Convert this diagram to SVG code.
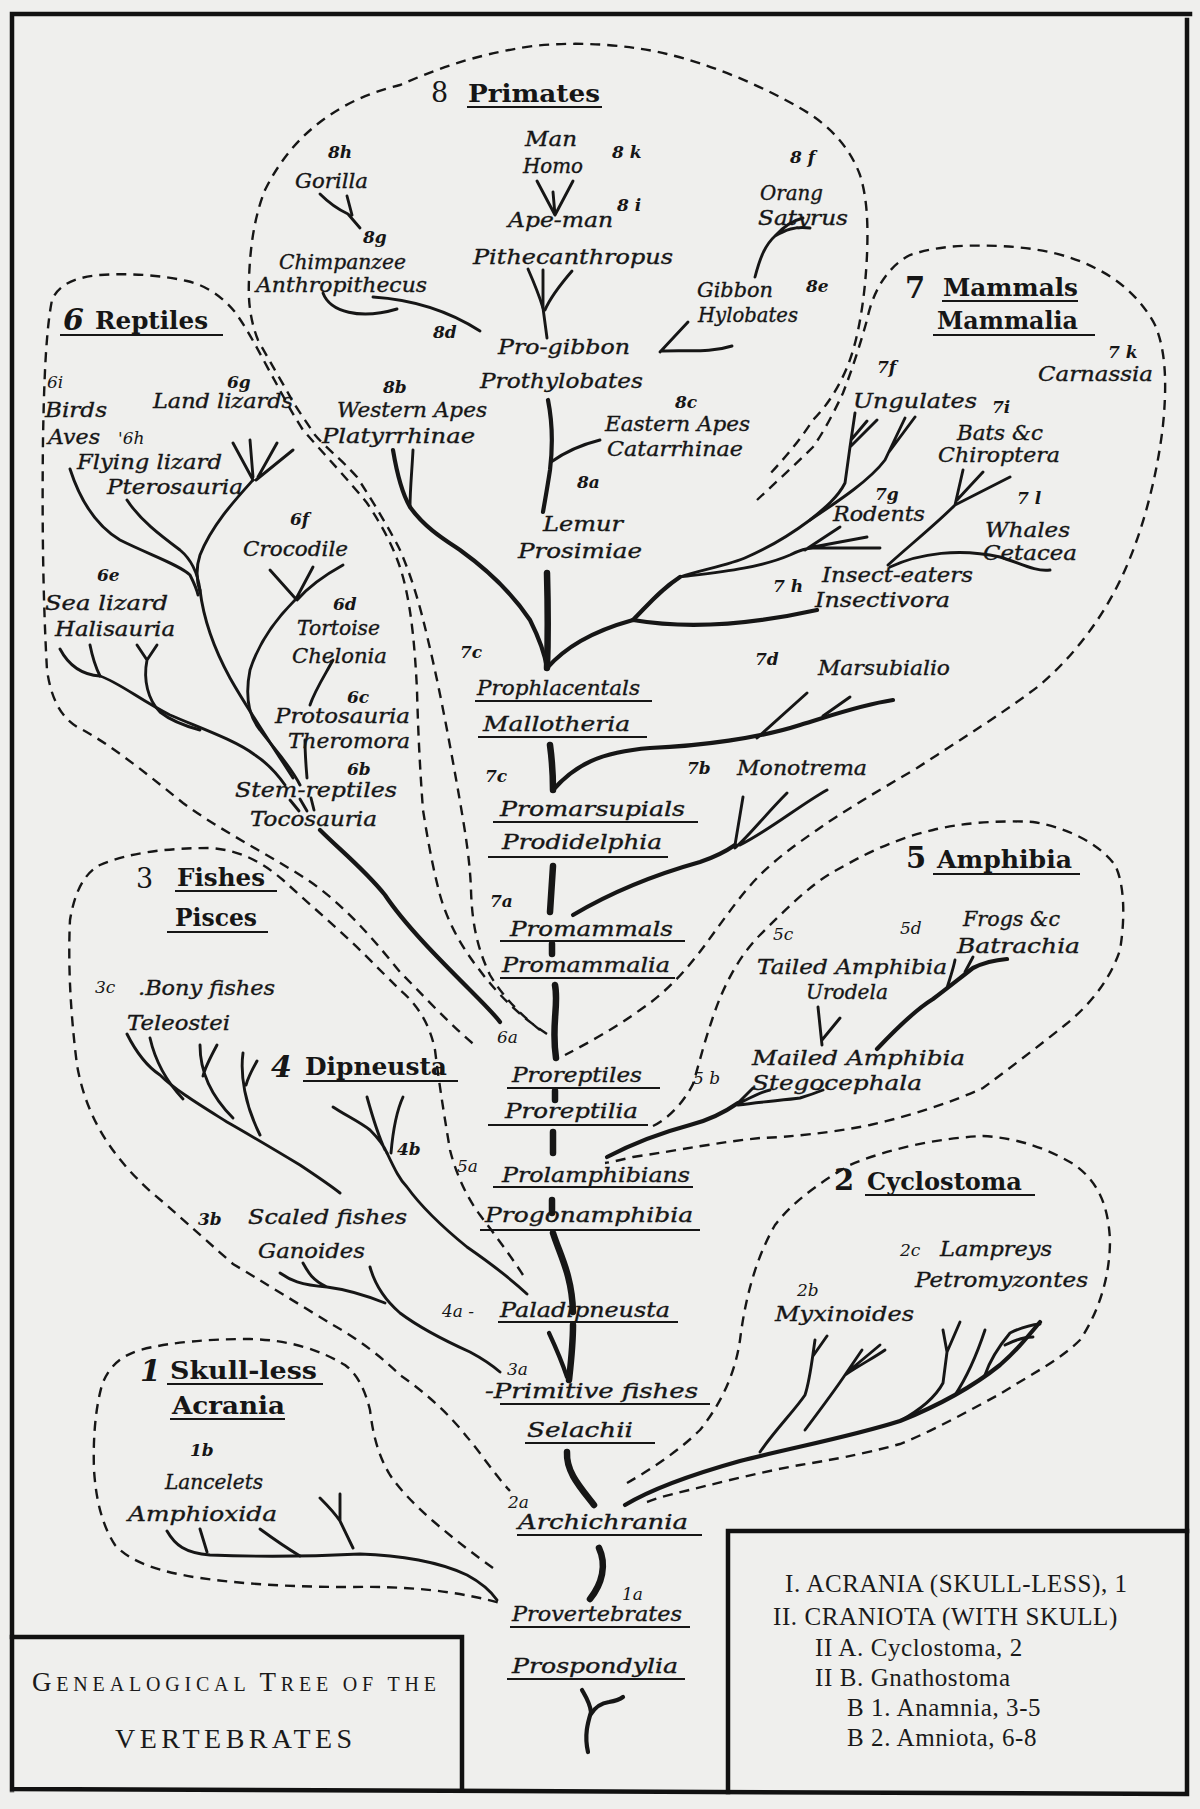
<svg xmlns="http://www.w3.org/2000/svg" width="1200" height="1809" viewBox="0 0 1200 1809">
<style>
.t{font-family:"DejaVu Serif","Liberation Serif",serif;font-style:italic;font-size:20px;fill:#161616;stroke:#161616;stroke-width:0.35}
.n{font-family:"DejaVu Serif","Liberation Serif",serif;font-style:italic;font-weight:bold;font-size:17px;fill:#161616}
.m{font-family:"DejaVu Serif","Liberation Serif",serif;font-style:italic;font-size:17px;fill:#161616}
.h{font-family:"DejaVu Serif","Liberation Serif",serif;font-weight:bold;font-size:25px;fill:#161616}
.hn{font-family:"DejaVu Serif","Liberation Serif",serif;font-size:27px;fill:#161616}
.hb{font-family:"DejaVu Serif","Liberation Serif",serif;font-weight:bold;font-size:29px;fill:#161616}
.hi{font-family:"DejaVu Serif","Liberation Serif",serif;font-weight:bold;font-style:italic;font-size:30px;fill:#161616}
.lg{font-family:"Liberation Serif","Times New Roman",serif;font-size:25px;fill:#1a1a1a;letter-spacing:0.6px}
.ti{font-family:"Liberation Serif","Times New Roman",serif;fill:#1a1a1a}
.br{fill:none;stroke:#161616;stroke-width:2.9;stroke-linecap:round;stroke-linejoin:round}
.md{stroke-width:4.2}
.tk{fill:none;stroke:#161616;stroke-width:6.5;stroke-linecap:round;stroke-linejoin:round}
.ds{fill:none;stroke:#161616;stroke-width:2.4;stroke-dasharray:10 7}
.ul{fill:none;stroke:#161616;stroke-width:1.9}
.fr{fill:none;stroke:#111;stroke-width:4.5;stroke-linecap:square}
</style>
<rect x="0" y="0" width="1200" height="1809" fill="#efefed"/>

<g id="frame">
<path class="fr" d="M12,14 H1190 M12,14 V1790 M1187,20 V1794 M12,1789 L1187,1794"/>
<path class="fr" d="M12,1637 H462 M462,1637 V1790"/>
<path class="fr" d="M728,1531 H1187 M728,1531 V1792"/>
</g>

<g id="outlines">
<path id="o-primates" class="ds" d="M540,1030 C525,1018 505,1000 490,975 C478,950 472,925 471,890 C470,860 465,830 458,790 C450,745 440,690 428,640 C420,605 412,578 400,550 C390,530 375,505 357,477 C340,458 325,447 315,435 C305,420 298,410 292,400 C282,382 270,362 258,340 C250,320 248,300 249,280 C250,245 255,215 265,190 C280,160 300,135 330,115 C355,98 380,90 400,85 C430,72 470,55 533,46 C580,41 630,45 667,54 C710,64 760,85 800,108 C830,125 850,148 860,175 C868,200 868,230 867,255 C865,300 858,340 848,365 C840,385 828,405 813,420 C800,440 785,458 767,477"/>
<path id="o-mammals" class="ds" d="M757,500 C775,483 795,465 813,447 C825,430 835,410 843,393 C852,370 860,345 867,320 C872,295 885,268 910,255 C940,245 970,245 1000,246 C1040,248 1070,255 1095,268 C1120,280 1142,300 1155,325 C1166,350 1167,385 1163,425 C1158,470 1145,525 1125,570 C1105,615 1075,655 1040,685 C1005,712 960,740 917,768 C880,790 845,810 817,830 C795,845 775,860 760,875 C740,895 720,925 705,945 C690,965 670,990 640,1010 C615,1028 590,1042 565,1055"/>
<path id="o-reptiles" class="ds" d="M547,1034 C525,1020 500,998 478,968 C460,945 447,920 440,895 C432,865 427,835 423,810 C420,770 418,730 417,690 C415,650 412,615 405,585 C398,555 385,530 367,503 C350,482 325,455 303,430 C290,410 280,390 270,372 C258,350 248,330 235,312 C222,296 205,285 187,281 C160,275 130,273 100,275 C75,277 58,285 52,300 C46,330 44,380 43,440 C42,520 43,600 47,670 C52,705 65,722 83,730 C110,745 140,768 183,803 C220,830 260,850 300,875 C340,900 370,935 400,972 C420,992 450,1025 477,1047"/>
<path id="o-fishes" class="ds" d="M523,1275 C510,1255 495,1235 480,1215 C465,1195 455,1170 450,1150 C445,1120 440,1090 435,1050 C430,1025 418,1005 400,990 C390,980 380,970 365,955 C340,930 310,905 283,880 C262,862 240,850 210,848 C170,848 130,852 100,865 C85,873 75,890 70,920 C68,960 70,1010 77,1065 C85,1110 105,1150 150,1191 C175,1212 200,1235 233,1264 C260,1280 300,1305 333,1325 C360,1340 385,1360 400,1375 C425,1392 450,1415 467,1437 C480,1452 495,1475 510,1491"/>
<path id="o-amphibia" class="ds" d="M653,1126 C670,1118 685,1100 693,1084 C700,1060 705,1040 712,1020 C720,995 735,960 760,935 C785,910 810,885 833,872 C860,857 890,840 933,830 C960,823 1000,820 1033,822 C1070,828 1100,845 1115,865 C1125,885 1125,920 1120,950 C1110,980 1090,1005 1065,1025 C1040,1045 1010,1068 983,1088 C950,1103 910,1116 870,1125 C830,1133 790,1137 760,1138 C720,1142 680,1150 633,1157 C620,1160 612,1162 605,1163"/>
<path id="o-cyclostoma" class="ds" d="M627,1483 C650,1470 680,1450 700,1430 C720,1405 735,1375 740,1340 C745,1300 755,1260 775,1225 C790,1205 815,1185 850,1165 C890,1148 940,1138 983,1136 C1020,1138 1050,1150 1075,1165 C1095,1180 1108,1200 1110,1240 C1110,1275 1100,1310 1080,1340 C1060,1360 1030,1375 1000,1394 C970,1410 935,1430 900,1444 C860,1455 830,1460 800,1465 C760,1472 710,1485 673,1494 C660,1497 653,1500 647,1502"/>
<path id="o-acrania" class="ds" d="M493,1568 C475,1555 455,1540 433,1521 C415,1505 400,1490 390,1475 C378,1455 373,1435 370,1410 C365,1390 358,1375 345,1365 C320,1350 290,1340 250,1339 C210,1339 170,1342 140,1350 C120,1356 108,1368 102,1385 C95,1410 93,1440 94,1470 C96,1500 102,1525 115,1545 C130,1562 160,1572 200,1578 C250,1585 300,1587 350,1587 C400,1586 440,1590 470,1596 C480,1598 490,1600 500,1603"/>
</g>

<g id="connectors">
<path class="br md" d="M588,1752 C584,1735 588,1722 591,1712 C590,1703 586,1697 582,1690"/>
<path class="br md" d="M591,1714 C596,1706 602,1703 609,1702 C615,1701 619,1700 623,1697"/>
<path class="tk" d="M599,1548 C607,1565 602,1584 590,1599"/>
<path class="tk" d="M567,1452 C566,1472 580,1487 594,1505"/>
<path class="tk" d="M573,1325 C573,1345 571,1362 569,1380"/>
<path class="br md" d="M549,1333 C556,1348 562,1362 567,1377"/>
<path class="tk" d="M553,1233 C560,1255 572,1275 573,1312"/>
<path class="tk" d="M552,1200 L552,1213"/>
<path class="tk" d="M553,1132 L553,1153"/>
<path class="tk" d="M555,1091 L555,1100"/>
<path class="tk" d="M555,985 C559,1005 551,1025 556,1058"/>
<path class="tk" d="M552,944 L552,954"/>
<path class="tk" d="M553,866 L550,912"/>
<path class="tk" d="M550,745 C552,760 553,775 553,790"/>
<path class="tk" d="M547,573 C548,610 548,640 547,668"/>
<path class="br md" d="M548,400 C553,425 553,445 550,470 C547,490 545,500 543,512"/>
<path class="br" d="M551,462 C565,452 580,445 600,440"/>
<path class="br" d="M528,269 C535,285 540,298 543,308 L547,338"/>
<path class="br" d="M543,270 L543,308"/>
<path class="br" d="M572,271 C560,285 550,298 545,310"/>
<path class="br" d="M537,181 L555,215 M573,181 L555,215 M553,192 L555,215"/>
<path class="br" d="M320,194 Q333,207 348,214 L360,228 M347,196 L352,215"/>
<path class="br" d="M323,293 C330,312 360,320 397,309"/>
<path class="br" d="M373,297 C420,300 455,315 480,331"/>
<path class="br" d="M660,352 L688,322 M662,351 C690,350 710,353 732,346"/>
<path class="br" d="M755,277 C760,258 765,245 775,236 C785,230 795,226 810,228 M775,236 C785,225 795,220 803,218"/>
<path class="br md" d="M393,450 C398,480 403,495 410,507 C425,528 445,540 460,550 C485,568 510,590 530,620 C540,640 545,655 547,668"/>
<path class="br" d="M413,450 C412,470 410,490 410,507"/>
<path class="br md" d="M547,668 C565,648 590,632 633,620"/>
<path class="br md" d="M633,620 C680,628 740,627 817,610"/>
<path class="br md" d="M633,620 C648,605 660,590 680,577"/>
<path class="br" d="M680,577 C720,572 760,568 790,555 C800,550 806,548 813,548 L880,548 M813,547 L867,537 M805,550 L840,527"/>
<path class="br" d="M680,577 C700,570 730,565 747,557 C770,547 790,535 810,520 C825,508 838,497 845,483 L850,447 L855,413 M850,447 L877,420 M851,440 L867,421"/>
<path class="br" d="M810,520 C840,500 870,480 885,460 L905,418 M889,452 L915,417"/>
<path class="br" d="M888,565 C910,545 935,525 955,505 L963,470 M957,500 L983,472 M955,505 L1010,477"/>
<path class="br" d="M890,567 C920,553 960,548 1000,557 C1020,563 1035,572 1050,570"/>
<path class="br md" d="M553,790 C575,765 600,752 650,748 C700,746 760,738 800,725 C830,716 860,705 893,700"/>
<path class="br" d="M757,738 L807,693 M823,716 L850,697"/>
<path class="br md" d="M573,915 C610,893 650,876 700,862 C715,857 725,852 735,845"/>
<path class="br" d="M735,845 L743,797 M735,848 C750,835 765,815 787,793 M740,845 C770,830 800,805 827,790"/>
<path class="br" d="M233,443 L253,480 M250,440 L253,477 M277,443 L258,477 M293,450 L256,480"/>
<path class="br" d="M253,480 C235,500 212,525 200,555 C195,570 197,582 200,592"/>
<path class="br" d="M200,590 C203,615 212,645 230,678 C248,710 272,745 293,778"/>
<path class="br" d="M70,469 C80,500 95,525 120,540 C150,555 180,565 190,575 C195,585 197,590 198,595"/>
<path class="br" d="M127,500 C140,520 160,535 180,550 C192,560 198,575 200,590"/>
<path class="br" d="M270,570 L295,598 M313,567 L297,597 M343,565 C325,575 310,585 297,600"/>
<path class="br" d="M295,600 C275,620 258,645 250,670 C245,695 248,715 260,730 C275,750 290,765 300,785"/>
<path class="br" d="M333,660 C325,675 315,690 310,705"/>
<path class="br" d="M305,740 C305,755 306,765 307,778"/>
<path class="br" d="M60,649 C70,668 85,675 100,676 C120,683 140,700 170,715 C200,728 235,740 255,755 C270,765 278,775 285,785"/>
<path class="br" d="M90,645 C93,660 97,670 100,676"/>
<path class="br" d="M137,645 L147,660 M157,645 L147,660 M147,660 C143,680 148,700 160,712 C170,720 185,726 200,730"/>
<path class="br" d="M290,800 L299,811 M300,799 L307,811 M311,798 L314,810"/>
<path class="br md" d="M320,830 C340,850 365,870 385,895 C405,925 440,960 470,990 C485,1005 495,1015 500,1022"/>
<path class="br" d="M127,1034 C135,1050 145,1065 160,1075 C175,1090 200,1105 227,1122 C250,1135 275,1150 300,1165 C315,1175 330,1185 340,1193"/>
<path class="br" d="M150,1038 C155,1060 165,1080 183,1099"/>
<path class="br" d="M200,1045 C200,1070 210,1095 233,1118 M217,1045 C210,1058 205,1068 203,1076"/>
<path class="br" d="M243,1053 C240,1075 245,1105 260,1135 M257,1061 C252,1070 248,1078 246,1085"/>
<path class="br" d="M280,1273 C290,1280 300,1285 327,1287 C350,1290 370,1297 385,1303 M303,1263 C308,1272 312,1280 327,1287"/>
<path class="br" d="M370,1267 C375,1285 385,1300 400,1313 C420,1328 450,1343 470,1352 C485,1360 493,1366 500,1372"/>
<path class="br" d="M333,1107 C345,1115 360,1122 370,1130 C378,1138 384,1146 387,1153 M367,1097 C372,1115 378,1135 385,1150 M403,1097 C397,1110 393,1130 391,1153"/>
<path class="br" d="M387,1153 C395,1170 400,1180 407,1187 C420,1205 440,1225 467,1247 C490,1263 510,1278 527,1294"/>
<path class="br" d="M167,1531 C175,1545 185,1553 210,1555 C260,1557 320,1556 360,1554 C400,1555 440,1562 467,1575 C480,1582 490,1590 497,1600"/>
<path class="br" d="M200,1529 L207,1552 M260,1529 C275,1540 290,1550 300,1556 M320,1498 C330,1508 336,1515 340,1521 L353,1548 M340,1494 L340,1521"/>
<path class="br md" d="M625,1505 C650,1490 690,1475 740,1461 C790,1448 850,1437 900,1421 C940,1405 975,1385 1000,1365 C1015,1352 1025,1340 1040,1322"/>
<path class="br" d="M760,1452 C775,1430 795,1410 805,1395 C810,1380 812,1360 815,1340 M813,1356 L827,1336"/>
<path class="br" d="M805,1430 C820,1410 835,1390 845,1375 L862,1350 M845,1375 C860,1365 875,1357 885,1350 M850,1370 L880,1345"/>
<path class="br" d="M900,1421 C920,1410 935,1398 943,1383 L947,1352 L943,1330 M947,1352 L960,1322"/>
<path class="br" d="M955,1395 C965,1380 975,1360 985,1330"/>
<path class="br" d="M985,1375 C990,1360 1000,1345 1010,1333 C1020,1328 1030,1325 1040,1324 M1005,1345 C1015,1340 1025,1337 1033,1337"/>
<path class="br md" d="M607,1157 C630,1145 660,1133 690,1125 C710,1120 725,1112 738,1103"/>
<path class="br" d="M738,1103 L753,1088 M738,1104 C750,1098 760,1092 770,1090 M738,1105 C760,1102 785,1100 800,1098 C810,1095 818,1092 823,1090"/>
<path class="br md" d="M877,1049 C895,1030 915,1010 933,999 C945,990 955,982 973,968 C985,962 995,960 1007,959"/>
<path class="br" d="M947,988 C950,978 953,970 955,960 M965,972 L973,957"/>
<path class="br" d="M818,1007 L822,1045 M840,1018 L822,1040"/>
</g>

<g id="n-primates"><text class="hn" x="431" y="102">8</text><text class="h" x="468" y="102" textLength="132" lengthAdjust="spacingAndGlyphs">Primates</text><path class="ul" d="M467,107 H602"/></g>
<g id="n-8h"><text class="n" x="328" y="158">8h</text></g>
<g id="n-gorilla"><text class="t" x="295" y="188" textLength="73" lengthAdjust="spacingAndGlyphs">Gorilla</text></g>
<g id="n-8g"><text class="n" x="363" y="243">8g</text></g>
<g id="n-chimp"><text class="t" x="279" y="269" textLength="127" lengthAdjust="spacingAndGlyphs">Chimpanzee</text><text class="t" x="256" y="292" textLength="171" lengthAdjust="spacingAndGlyphs">Anthropithecus</text></g>
<g id="n-8d"><text class="n" x="433" y="338">8d</text></g>
<g id="n-8k"><text class="n" x="612" y="158">8 k</text></g>
<g id="n-man"><text class="t" x="525" y="146" textLength="52" lengthAdjust="spacingAndGlyphs">Man</text><text class="t" x="523" y="173" textLength="60" lengthAdjust="spacingAndGlyphs">Homo</text></g>
<g id="n-8i"><text class="n" x="617" y="211">8 i</text></g>
<g id="n-apeman"><text class="t" x="508" y="227" textLength="105" lengthAdjust="spacingAndGlyphs">Ape-man</text><text class="t" x="473" y="264" textLength="200" lengthAdjust="spacingAndGlyphs">Pithecanthropus</text></g>
<g id="n-progibbon"><text class="t" x="498" y="354" textLength="132" lengthAdjust="spacingAndGlyphs">Pro-gibbon</text><text class="t" x="480" y="388" textLength="163" lengthAdjust="spacingAndGlyphs">Prothylobates</text></g>
<g id="n-8f"><text class="n" x="790" y="163">8 f</text></g>
<g id="n-orang"><text class="t" x="760" y="200" textLength="63" lengthAdjust="spacingAndGlyphs">Orang</text><text class="t" x="758" y="225" textLength="90" lengthAdjust="spacingAndGlyphs">Satyrus</text></g>
<g id="n-gibbon"><text class="t" x="697" y="297" textLength="76" lengthAdjust="spacingAndGlyphs">Gibbon</text><text class="t" x="698" y="322" font-size="18" textLength="100" lengthAdjust="spacingAndGlyphs">Hylobates</text></g>
<g id="n-8e"><text class="n" x="806" y="292">8e</text></g>
<g id="n-8b"><text class="n" x="383" y="393">8b</text></g>
<g id="n-western"><text class="t" x="337" y="417" textLength="150" lengthAdjust="spacingAndGlyphs">Western Apes</text><text class="t" x="322" y="443" textLength="153" lengthAdjust="spacingAndGlyphs">Platyrrhinae</text></g>
<g id="n-8c"><text class="n" x="675" y="408">8c</text></g>
<g id="n-eastern"><text class="t" x="605" y="431" textLength="145" lengthAdjust="spacingAndGlyphs">Eastern Apes</text><text class="t" x="607" y="456" textLength="136" lengthAdjust="spacingAndGlyphs">Catarrhinae</text></g>
<g id="n-8a"><text class="n" x="577" y="488">8a</text></g>
<g id="n-lemur"><text class="t" x="543" y="531" textLength="80" lengthAdjust="spacingAndGlyphs">Lemur</text><text class="t" x="518" y="558" textLength="124" lengthAdjust="spacingAndGlyphs">Prosimiae</text></g>

<g id="n-mammals"><text class="hb" x="905" y="298">7</text><text class="h" x="943" y="296" textLength="135" lengthAdjust="spacingAndGlyphs">Mammals</text><path class="ul" d="M942,301 H1078"/><text class="h" x="937" y="329" textLength="141" lengthAdjust="spacingAndGlyphs">Mammalia</text><path class="ul" d="M933,335 H1095"/></g>
<g id="n-7k"><text class="n" x="1108" y="358">7 k</text></g>
<g id="n-carnassia"><text class="t" x="1038" y="381" textLength="115" lengthAdjust="spacingAndGlyphs">Carnassia</text></g>
<g id="n-7f"><text class="n" x="877" y="373">7f</text></g>
<g id="n-ungulates"><text class="t" x="853" y="408" textLength="124" lengthAdjust="spacingAndGlyphs">Ungulates</text></g>
<g id="n-7i"><text class="n" x="992" y="413">7i</text></g>
<g id="n-bats"><text class="t" x="957" y="440" textLength="86" lengthAdjust="spacingAndGlyphs">Bats &amp;c</text><text class="t" x="938" y="462" textLength="122" lengthAdjust="spacingAndGlyphs">Chiroptera</text></g>
<g id="n-7g"><text class="n" x="875" y="500">7g</text></g>
<g id="n-rodents"><text class="t" x="833" y="521" textLength="92" lengthAdjust="spacingAndGlyphs">Rodents</text></g>
<g id="n-7l"><text class="n" x="1017" y="504">7 l</text></g>
<g id="n-whales"><text class="t" x="985" y="537" textLength="85" lengthAdjust="spacingAndGlyphs">Whales</text><text class="t" x="983" y="560" textLength="94" lengthAdjust="spacingAndGlyphs">Cetacea</text></g>
<g id="n-7h"><text class="n" x="773" y="592">7 h</text></g>
<g id="n-insect"><text class="t" x="822" y="582" textLength="151" lengthAdjust="spacingAndGlyphs">Insect-eaters</text><text class="t" x="815" y="607" textLength="135" lengthAdjust="spacingAndGlyphs">Insectivora</text></g>
<g id="n-7c"><text class="n" x="460" y="658">7c</text></g>
<g id="n-prophlacentals"><text class="t" x="477" y="695" textLength="163" lengthAdjust="spacingAndGlyphs">Prophlacentals</text><path class="ul" d="M475,701 H652"/><text class="t" x="483" y="731" textLength="147" lengthAdjust="spacingAndGlyphs">Mallotheria</text><path class="ul" d="M478,737 H647"/></g>
<g id="n-7d"><text class="n" x="755" y="665">7d</text></g>
<g id="n-marsubialio"><text class="t" x="818" y="675" textLength="132" lengthAdjust="spacingAndGlyphs">Marsubialio</text></g>
<g id="n-7c2"><text class="n" x="485" y="782">7c</text></g>
<g id="n-7b"><text class="n" x="687" y="774">7b</text></g>
<g id="n-monotrema"><text class="t" x="737" y="775" textLength="130" lengthAdjust="spacingAndGlyphs">Monotrema</text></g>
<g id="n-promarsupials"><text class="t" x="500" y="816" textLength="185" lengthAdjust="spacingAndGlyphs">Promarsupials</text><path class="ul" d="M493,822 H698"/><text class="t" x="502" y="849" textLength="160" lengthAdjust="spacingAndGlyphs">Prodidelphia</text><path class="ul" d="M488,857 H668"/></g>
<g id="n-7a"><text class="n" x="490" y="907">7a</text></g>
<g id="n-promammals"><text class="t" x="510" y="936" textLength="163" lengthAdjust="spacingAndGlyphs">Promammals</text><path class="ul" d="M500,941 H685"/><text class="t" x="502" y="972" textLength="168" lengthAdjust="spacingAndGlyphs">Promammalia</text><path class="ul" d="M500,978 H675"/></g>

<g id="n-reptiles"><text class="hi" x="63" y="330">6</text><text class="h" x="95" y="329" textLength="113" lengthAdjust="spacingAndGlyphs">Reptiles</text><path class="ul" d="M60,335 H223"/></g>
<g id="n-6i"><text class="m" x="47" y="388">6i</text></g>
<g id="n-birds"><text class="t" x="45" y="417" textLength="62" lengthAdjust="spacingAndGlyphs">Birds</text><text class="t" x="48" y="444" textLength="52" lengthAdjust="spacingAndGlyphs">Aves</text></g>
<g id="n-6h"><text class="m" x="118" y="444">'6h</text></g>
<g id="n-6g"><text class="n" x="227" y="388">6g</text></g>
<g id="n-landlizards"><text class="t" x="153" y="408" textLength="140" lengthAdjust="spacingAndGlyphs">Land lizards</text></g>
<g id="n-flying"><text class="t" x="77" y="469" textLength="145" lengthAdjust="spacingAndGlyphs">Flying lizard</text><text class="t" x="107" y="494" textLength="136" lengthAdjust="spacingAndGlyphs">Pterosauria</text></g>
<g id="n-6f"><text class="n" x="290" y="525">6f</text></g>
<g id="n-crocodile"><text class="t" x="243" y="556" textLength="105" lengthAdjust="spacingAndGlyphs">Crocodile</text></g>
<g id="n-6e"><text class="n" x="97" y="581">6e</text></g>
<g id="n-sealizard"><text class="t" x="45" y="610" textLength="123" lengthAdjust="spacingAndGlyphs">Sea lizard</text><text class="t" x="55" y="636" textLength="120" lengthAdjust="spacingAndGlyphs">Halisauria</text></g>
<g id="n-6d"><text class="n" x="333" y="610">6d</text></g>
<g id="n-tortoise"><text class="t" x="297" y="635" textLength="83" lengthAdjust="spacingAndGlyphs">Tortoise</text><text class="t" x="292" y="663" textLength="95" lengthAdjust="spacingAndGlyphs">Chelonia</text></g>
<g id="n-6c"><text class="n" x="347" y="703">6c</text></g>
<g id="n-protosauria"><text class="t" x="275" y="723" textLength="135" lengthAdjust="spacingAndGlyphs">Protosauria</text><text class="t" x="288" y="748" textLength="122" lengthAdjust="spacingAndGlyphs">Theromora</text></g>
<g id="n-6b"><text class="n" x="347" y="775">6b</text></g>
<g id="n-stemreptiles"><text class="t" x="235" y="797" textLength="162" lengthAdjust="spacingAndGlyphs">Stem-reptiles</text><text class="t" x="250" y="826" textLength="127" lengthAdjust="spacingAndGlyphs">Tocosauria</text></g>
<g id="n-6a"><text class="m" x="497" y="1043">6a</text></g>
<g id="n-proreptiles"><text class="t" x="512" y="1082" textLength="130" lengthAdjust="spacingAndGlyphs">Proreptiles</text><path class="ul" d="M507,1088 H660"/><text class="t" x="505" y="1118" textLength="133" lengthAdjust="spacingAndGlyphs">Proreptilia</text><path class="ul" d="M488,1125 H648"/></g>

<g id="n-fishes"><text class="hn" x="136" y="888">3</text><text class="h" x="177" y="886" textLength="88" lengthAdjust="spacingAndGlyphs">Fishes</text><path class="ul" d="M175,891 H277"/><text class="h" x="175" y="926" textLength="82" lengthAdjust="spacingAndGlyphs">Pisces</text><path class="ul" d="M167,932 H268"/></g>
<g id="n-3c"><text class="m" x="95" y="993">3c</text></g>
<g id="n-bony"><text class="t" x="138" y="995" textLength="137" lengthAdjust="spacingAndGlyphs">.Bony fishes</text><text class="t" x="127" y="1030" textLength="103" lengthAdjust="spacingAndGlyphs">Teleostei</text></g>
<g id="n-dipneusta"><text class="hi" x="271" y="1077">4</text><text class="h" x="305" y="1075" textLength="142" lengthAdjust="spacingAndGlyphs">Dipneusta</text><path class="ul" d="M303,1081 H458"/></g>
<g id="n-4b"><text class="n" x="397" y="1155">4b</text></g>
<g id="n-5a"><text class="m" x="457" y="1172">5a</text></g>
<g id="n-3b"><text class="n" x="198" y="1225">3b</text></g>
<g id="n-scaled"><text class="t" x="248" y="1224" textLength="159" lengthAdjust="spacingAndGlyphs">Scaled fishes</text><text class="t" x="258" y="1258" textLength="107" lengthAdjust="spacingAndGlyphs">Ganoides</text></g>
<g id="n-4a"><text class="m" x="442" y="1317">4a -</text></g>
<g id="n-paladipneusta"><text class="t" x="500" y="1317" textLength="170" lengthAdjust="spacingAndGlyphs">Paladipneusta</text><path class="ul" d="M498,1322 H678"/></g>
<g id="n-3a"><text class="m" x="507" y="1375">3a</text></g>
<g id="n-primitive"><text class="t" x="485" y="1398" textLength="213" lengthAdjust="spacingAndGlyphs">-Primitive fishes</text><path class="ul" d="M500,1404 H710"/><text class="t" x="527" y="1437" textLength="106" lengthAdjust="spacingAndGlyphs">Selachii</text><path class="ul" d="M525,1443 H655"/></g>

<g id="n-amphibia"><text class="hb" x="906" y="868">5</text><text class="h" x="937" y="868" textLength="135" lengthAdjust="spacingAndGlyphs">Amphibia</text><path class="ul" d="M933,874 H1080"/></g>
<g id="n-5b"><text class="m" x="693" y="1084">5 b</text></g>
<g id="n-prolamphibians"><text class="t" x="502" y="1182" textLength="188" lengthAdjust="spacingAndGlyphs">Prolamphibians</text><path class="ul" d="M493,1187 H693"/><text class="t" x="485" y="1222" textLength="208" lengthAdjust="spacingAndGlyphs">Progonamphibia</text><path class="ul" d="M480,1230 H700"/></g>
<g id="n-5c"><text class="m" x="773" y="940">5c</text></g>
<g id="n-tailed"><text class="t" x="757" y="974" textLength="190" lengthAdjust="spacingAndGlyphs">Tailed Amphibia</text><text class="t" x="806" y="999" textLength="82" lengthAdjust="spacingAndGlyphs">Urodela</text></g>
<g id="n-5d"><text class="m" x="900" y="934">5d</text></g>
<g id="n-frogs"><text class="t" x="963" y="926" textLength="97" lengthAdjust="spacingAndGlyphs">Frogs &amp;c</text><text class="t" x="957" y="953" textLength="123" lengthAdjust="spacingAndGlyphs">Batrachia</text></g>
<g id="n-mailed"><text class="t" x="752" y="1065" textLength="213" lengthAdjust="spacingAndGlyphs">Mailed Amphibia</text><text class="t" x="752" y="1090" textLength="170" lengthAdjust="spacingAndGlyphs">Stegocephala</text></g>

<g id="n-cyclostoma"><text class="hb" x="834" y="1190">2</text><text class="h" x="867" y="1190" textLength="155" lengthAdjust="spacingAndGlyphs">Cyclostoma</text><path class="ul" d="M865,1195 H1035"/></g>
<g id="n-2c"><text class="m" x="900" y="1256">2c</text></g>
<g id="n-lampreys"><text class="t" x="940" y="1256" textLength="112" lengthAdjust="spacingAndGlyphs">Lampreys</text><text class="t" x="915" y="1287" textLength="173" lengthAdjust="spacingAndGlyphs">Petromyzontes</text></g>
<g id="n-2b"><text class="m" x="797" y="1296">2b</text></g>
<g id="n-myxinoides"><text class="t" x="775" y="1321" textLength="139" lengthAdjust="spacingAndGlyphs">Myxinoides</text></g>
<g id="n-2a"><text class="m" x="508" y="1508">2a</text></g>
<g id="n-archichrania"><text class="t" x="518" y="1529" textLength="170" lengthAdjust="spacingAndGlyphs">Archichrania</text><path class="ul" d="M517,1535 H702"/></g>

<g id="n-acrania"><text class="hi" x="140" y="1381" font-size="26">1</text><text class="h" x="170" y="1379" textLength="147" lengthAdjust="spacingAndGlyphs">Skull-less</text><path class="ul" d="M167,1384 H323"/><text class="h" x="172" y="1414" textLength="113" lengthAdjust="spacingAndGlyphs">Acrania</text><path class="ul" d="M170,1419 H285"/></g>
<g id="n-1b"><text class="n" x="190" y="1456">1b</text></g>
<g id="n-lancelets"><text class="t" x="165" y="1489" textLength="98" lengthAdjust="spacingAndGlyphs">Lancelets</text><text class="t" x="128" y="1521" textLength="149" lengthAdjust="spacingAndGlyphs">Amphioxida</text></g>
<g id="n-1a"><text class="m" x="622" y="1600">1a</text></g>
<g id="n-provertebrates"><text class="t" x="512" y="1621" textLength="170" lengthAdjust="spacingAndGlyphs">Provertebrates</text><path class="ul" d="M510,1627 H690"/><text class="t" x="512" y="1673" textLength="166" lengthAdjust="spacingAndGlyphs">Prospondylia</text><path class="ul" d="M507,1679 H685"/></g>

<g id="title">
<text class="ti" x="32" y="1691" textLength="404" lengthAdjust="spacing"><tspan font-size="27">G</tspan><tspan font-size="20">ENEALOGICAL </tspan><tspan font-size="27">T</tspan><tspan font-size="20">REE OF THE</tspan></text>
<text class="ti" x="115" y="1748" font-size="28" textLength="237" lengthAdjust="spacing">VERTEBRATES</text>
</g>

<g id="legend">
<text class="lg" x="785" y="1592">I. ACRANIA (SKULL-LESS), 1</text>
<text class="lg" x="773" y="1625">II. CRANIOTA (WITH SKULL)</text>
<text class="lg" x="815" y="1656">II A. Cyclostoma, 2</text>
<text class="lg" x="815" y="1686">II B. Gnathostoma</text>
<text class="lg" x="847" y="1716">B 1. Anamnia, 3-5</text>
<text class="lg" x="847" y="1746">B 2. Amniota, 6-8</text>
</g>
</svg>
